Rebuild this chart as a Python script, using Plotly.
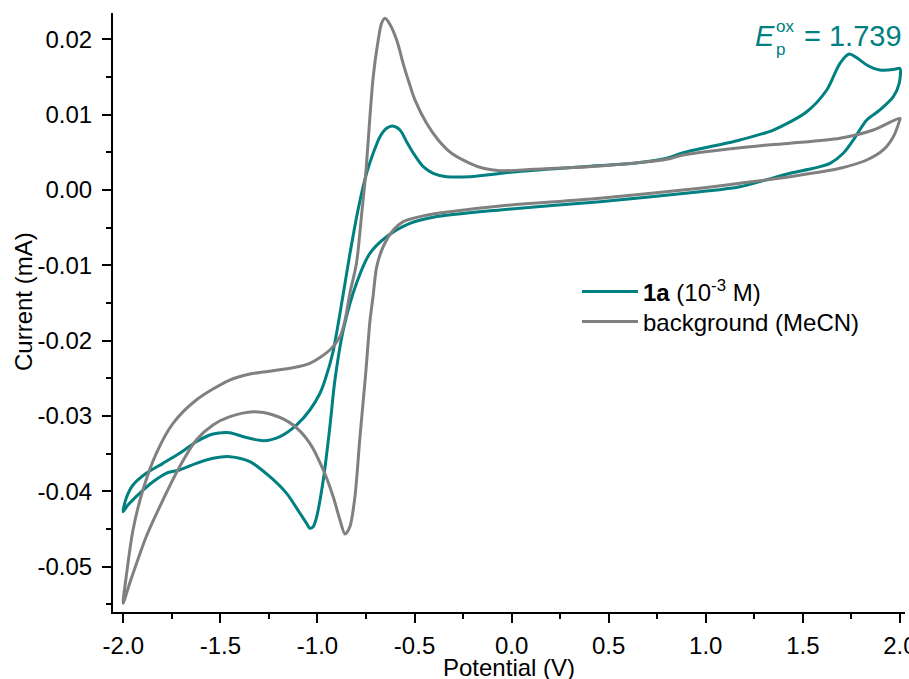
import plotly.graph_objects as go

# ---- data (Potential V, Current mA) ----
teal_x = [-2.001, -1.985, -1.950, -1.882, -1.796, -1.710, -1.624, -1.538, -1.452, -1.382,
          -1.279, -1.193, -1.107, -1.039, -0.987, -0.961, -0.920, -0.875, -0.833, -0.790,
          -0.747, -0.713, -0.678, -0.644, -0.613, -0.575, -0.541, -0.506, -0.455, -0.404,
          -0.335, -0.215, 0.026, 0.369, 0.627, 0.799, 0.884, 1.176, 1.348, 1.520, 1.623,
          1.691, 1.739, 1.775, 1.829, 1.897, 1.974, 2.000,
          1.996, 1.966, 1.897, 1.829, 1.760, 1.708, 1.640, 1.554, 1.434, 1.176,
          0.970, 0.455, -0.060, -0.404, -0.524, -0.644, -0.730, -0.799, -0.867, -0.910,
          -0.936, -0.970, -1.004, -1.022, -1.039, -1.056, -1.090, -1.159, -1.245, -1.348,
          -1.451, -1.538, -1.624, -1.710, -1.779, -1.847, -1.916, -1.976, -2.001]
teal_y = [-0.04270, -0.04092, -0.03916, -0.03760, -0.03628, -0.03495, -0.03341, -0.03239, -0.03221, -0.03274,
          -0.03328, -0.03274, -0.03119, -0.02920, -0.02698, -0.02522, -0.02150, -0.01500, -0.00850, -0.00250,
          0.00222, 0.00487, 0.00708, 0.00819, 0.00849, 0.00796, 0.00641, 0.00487, 0.00309, 0.00222,
          0.00177, 0.00177, 0.00243, 0.00309, 0.00354, 0.00421, 0.00495, 0.00664, 0.00796, 0.01039, 0.01327,
          0.01682, 0.01805, 0.01760, 0.01659, 0.01593, 0.01602, 0.01615,
          0.01416, 0.01238, 0.01062, 0.00929, 0.00664, 0.00487, 0.00354, 0.00288, 0.00222, 0.00044,
          -0.00023, -0.00155, -0.00265, -0.00362, -0.00442, -0.00620, -0.00840, -0.01238, -0.01858, -0.02522,
          -0.03142, -0.03849, -0.04336, -0.04469, -0.04490, -0.04425, -0.04291, -0.04026, -0.03805, -0.03606,
          -0.03540, -0.03561, -0.03628, -0.03716, -0.03760, -0.03872, -0.04026, -0.04181, -0.04270]

gray_x = [-2.001, -1.985, -1.950, -1.899, -1.830, -1.744, -1.624, -1.452, -1.348, -1.142,
          -1.039, -0.936, -0.884, -0.858, -0.833, -0.799, -0.772, -0.752, -0.713, -0.687,
          -0.670, -0.652, -0.627, -0.592, -0.554, -0.527, -0.498, -0.438, -0.378, -0.309,
          -0.215, -0.146, -0.060, 0.112, 0.455, 0.799, 0.884, 1.228, 1.434, 1.691,
          1.863, 2.000,
          1.996, 1.966, 1.914, 1.829, 1.691, 1.434, 1.176, 0.970, 0.455, -0.060,
          -0.318, -0.450, -0.558, -0.609, -0.661, -0.695, -0.713, -0.730, -0.752, -0.781,
          -0.807, -0.833, -0.858, -0.884, -0.919, -0.970, -1.039, -1.125, -1.228, -1.331,
          -1.451, -1.538, -1.624, -1.710, -1.796, -1.882, -1.967, -2.001]
gray_y = [-0.05486, -0.05133, -0.04513, -0.03982, -0.03495, -0.03097, -0.02787, -0.02522, -0.02442, -0.02367,
          -0.02300, -0.02124, -0.01947, -0.01726, -0.01371, -0.00973, -0.00310, 0.00200, 0.01500, 0.01991,
          0.02212, 0.02279, 0.02200, 0.01991, 0.01637, 0.01416, 0.01195, 0.00885, 0.00664, 0.00487,
          0.00354, 0.00288, 0.00256, 0.00275, 0.00319, 0.00407, 0.00465, 0.00575, 0.00620, 0.00686,
          0.00796, 0.00952,
          0.00907, 0.00707, 0.00531, 0.00398, 0.00288, 0.00177, 0.00089, 0.00023, -0.00110, -0.00212,
          -0.00288, -0.00340, -0.00420, -0.00530, -0.00750, -0.01020, -0.01400, -0.01750, -0.02450, -0.03274,
          -0.04071, -0.04469, -0.04566, -0.04380, -0.04071, -0.03716, -0.03362, -0.03119, -0.02986, -0.02943,
          -0.03009, -0.03119, -0.03318, -0.03673, -0.04115, -0.04602, -0.05220, -0.05486]

x_tickvals = [-2.0, -1.5, -1.0, -0.5, 0.0, 0.5, 1.0, 1.5, 2.0]
x_ticktext = ["-2.0", "-1.5", "-1.0", "-0.5", "0.0", "0.5", "1.0", "1.5", "2.0"]
y_tickvals = [-0.05, -0.04, -0.03, -0.02, -0.01, 0.00, 0.01, 0.02]
y_ticktext = ["-0.05", "-0.04", "-0.03", "-0.02", "-0.01", "0.00", "0.01", "0.02"]

TEAL = "#008080"
GRAY = "#808080"
FONT = "Liberation Sans, Arial, sans-serif"

def px2paper_x(px):
    return (px - 113) / 792.0

def px2paper_y(py):
    return (612 - py) / 599.0

fig = go.Figure()
fig.add_trace(go.Scatter(x=teal_x, y=teal_y, mode="lines",
                         name="<b>1a</b> (10<sup>-3</sup> M)", legend="legend",
                         line=dict(color=TEAL, width=3, shape="spline", smoothing=0.8)))
fig.add_trace(go.Scatter(x=gray_x, y=gray_y, mode="lines",
                         name="background (MeCN)", legend="legend2",
                         line=dict(color=GRAY, width=3, shape="spline", smoothing=0.8)))

axis_common = dict(showline=True, linecolor="black", linewidth=2, ticks="outside",
                   ticklen=9, tickwidth=2, tickcolor="black", showgrid=False, zeroline=False,
                   automargin=False, ticklabeloverflow="allow",
                   tickfont=dict(family=FONT, size=24, color="black"))

fig.update_xaxes(range=[-2.053, 2.026], tickvals=x_tickvals, ticktext=x_ticktext,
                 ticklabelstandoff=2,
                 minor=dict(ticks="outside", ticklen=5, tickwidth=2, tickcolor="black", dtick=0.25, tick0=0),
                 **axis_common)
fig.update_yaxes(range=[-0.05601, 0.02349], tickvals=y_tickvals, ticktext=y_ticktext,
                 ticklabelstandoff=5,
                 minor=dict(ticks="outside", ticklen=5, tickwidth=2, tickcolor="black", dtick=0.005, tick0=0),
                 **axis_common)

title_font = dict(family=FONT, size=24, color="black")
fig.add_annotation(xref="paper", yref="paper", x=px2paper_x(509), y=px2paper_y(667),
                   text="Potential (V)", showarrow=False, xanchor="center", yanchor="middle",
                   font=title_font)
fig.add_annotation(xref="paper", yref="paper", x=px2paper_x(23), y=px2paper_y(302),
                   text="Current (mA)", showarrow=False, xanchor="center", yanchor="middle",
                   textangle=-90, font=title_font)

ann_font = dict(family=FONT, size=29, color=TEAL)
small_font = dict(family=FONT, size=17, color=TEAL)
fig.add_annotation(xref="paper", yref="paper", x=px2paper_x(777), y=px2paper_y(36),
                   text="<i>E</i>", showarrow=False, xanchor="right", yanchor="middle", font=ann_font)
fig.add_annotation(xref="paper", yref="paper", x=px2paper_x(774), y=px2paper_y(26),
                   text="ox", showarrow=False, xanchor="left", yanchor="middle", font=small_font)
fig.add_annotation(xref="paper", yref="paper", x=px2paper_x(774), y=px2paper_y(50),
                   text="p", showarrow=False, xanchor="left", yanchor="middle", font=small_font)
fig.add_annotation(xref="paper", yref="paper", x=px2paper_x(802), y=px2paper_y(36),
                   text="= 1.739", showarrow=False, xanchor="left", yanchor="middle", font=ann_font)

legend_common = dict(xanchor="left", yanchor="middle", bgcolor="rgba(0,0,0,0)",
                     font=dict(family=FONT, size=24, color="black"), itemwidth=56)
fig.update_layout(
    width=909, height=679,
    margin=dict(l=113, r=4, t=13, b=67),
    plot_bgcolor="white", paper_bgcolor="white",
    font=dict(family=FONT, size=24, color="black"),
    legend=dict(x=px2paper_x(577), y=px2paper_y(292), **legend_common),
    legend2=dict(x=px2paper_x(577), y=px2paper_y(322), **legend_common),
    showlegend=True,
)

fig.write_html("out.html", config={"displayModeBar": False},
               post_script="document.body.style.margin='0px';document.body.style.overflow='hidden';")
